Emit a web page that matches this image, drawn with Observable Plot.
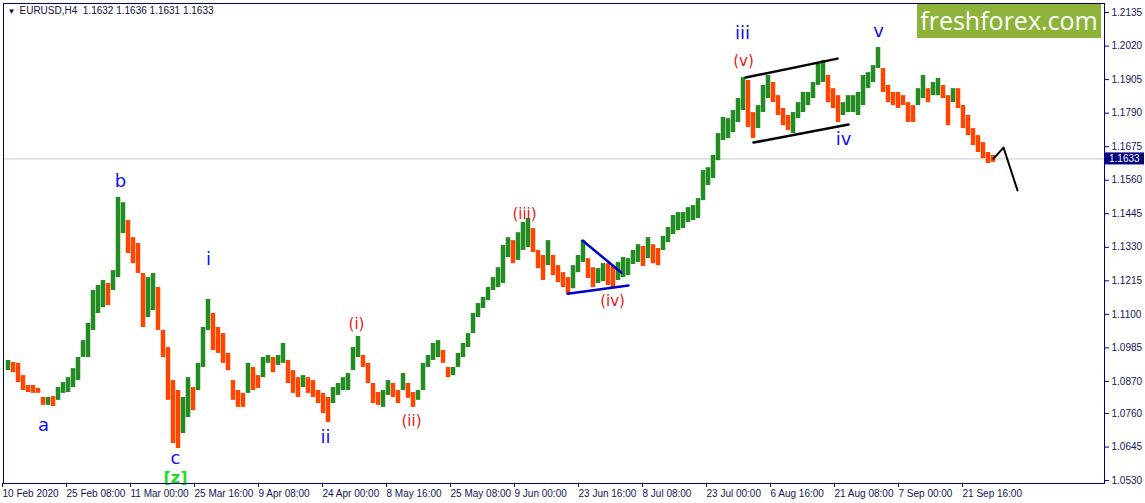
<!DOCTYPE html>
<html><head><meta charset="utf-8">
<script src="https://cdn.jsdelivr.net/npm/d3@7"></script>
<script src="https://cdn.jsdelivr.net/npm/@observablehq/plot@0.6"></script>
<style>
body{margin:0;background:#fff;}
#wrap{position:relative;width:1145px;height:503px;overflow:hidden;}
#logo{position:absolute;left:917px;top:4px;width:184px;height:34px;background:#8DB33A;color:#fff;font:25px "Open Sans",sans-serif;line-height:33px;text-align:center;}
</style></head><body><div id="wrap"><div id="logo">freshforex.com</div></div>
<script>
// ---- data (EURUSD H4, each sample = group of 5 H4 bars, high / low) ----
const symbol = "EURUSD,H4";
const lastOHLC = [1.1632, 1.1636, 1.1631, 1.1633];
const barsPerSample = 5;
const hi = [
1.0942,1.0935,1.0932,1.0890,1.0856,1.0856,1.0846,1.0815,1.0815,1.0818,
1.0849,1.0866,1.0883,1.0914,1.0952,1.1010,1.1069,1.1182,1.1199,1.1216,
1.1206,1.1250,1.1501,1.1483,1.1422,1.1363,1.1343,1.1240,1.1226,1.1240,
1.1192,1.1045,1.0986,1.0873,1.0839,1.0815,1.0883,1.0849,1.0932,1.1055,
1.1151,1.1103,1.1055,1.1034,1.0966,1.0873,1.0839,1.0829,1.0932,1.0918,
1.0890,1.0952,1.0959,1.0952,1.0959,1.1000,1.0942,1.0907,1.0883,1.0890,
1.0883,1.0873,1.0839,1.0829,1.0815,1.0849,1.0863,1.0883,1.0897,1.0986,
1.1024,1.0959,1.0932,1.0863,1.0832,1.0839,1.0873,1.0863,1.0839,1.0897,
1.0863,1.0832,1.0839,1.0932,1.0959,1.1000,1.1010,1.0976,1.0918,1.0918,
1.0966,1.1000,1.1034,1.1103,1.1137,1.1158,1.1192,1.1226,1.1260,1.1336,
1.1363,1.1353,1.1380,1.1415,1.1429,1.1394,1.1319,1.1302,1.1353,1.1302,
1.1267,1.1243,1.1226,1.1267,1.1302,1.1353,1.1291,1.1260,1.1257,1.1274,
1.1274,1.1264,1.1278,1.1295,1.1291,1.1319,1.1339,1.1333,1.1363,1.1339,
1.1326,1.1367,1.1398,1.1439,1.1449,1.1449,1.1466,1.1473,1.1497,1.1593,
1.1603,1.1645,1.1720,1.1775,1.1771,1.1799,1.1840,1.1912,1.1902,1.1792,
1.1816,1.1885,1.1919,1.1895,1.1850,1.1806,1.1782,1.1792,1.1826,1.1861,
1.1861,1.1895,1.1964,1.1970,1.1919,1.1874,1.1850,1.1826,1.1850,1.1850,
1.1861,1.1919,1.1929,1.1953,1.2015,1.1943,1.1885,1.1861,1.1861,1.1850,
1.1826,1.1816,1.1874,1.1919,1.1874,1.1895,1.1909,1.1885,1.1850,1.1874,
1.1874,1.1816,1.1782,1.1737,1.1713,1.1689,1.1655,1.1645];
const lo = [
1.0907,1.0900,1.0866,1.0839,1.0832,1.0829,1.0829,1.0788,1.0788,1.0784,
1.0805,1.0829,1.0832,1.0849,1.0873,1.0952,1.0952,1.1045,1.1103,1.1123,
1.1130,1.1182,1.1226,1.1377,1.1309,1.1274,1.1240,1.1055,1.1089,1.1113,
1.1045,1.0952,1.0805,1.0657,1.0640,1.0691,1.0746,1.0770,1.0839,1.0918,
1.1045,1.0976,1.0966,1.0932,1.0907,1.0805,1.0781,1.0781,1.0829,1.0839,
1.0846,1.0883,1.0932,1.0900,1.0925,1.0932,1.0863,1.0829,1.0815,1.0849,
1.0829,1.0815,1.0794,1.0760,1.0729,1.0794,1.0822,1.0839,1.0839,1.0907,
1.0952,1.0918,1.0863,1.0794,1.0788,1.0781,1.0822,1.0815,1.0794,1.0839,
1.0812,1.0781,1.0805,1.0839,1.0918,1.0942,1.0952,1.0932,1.0883,1.0890,
1.0918,1.0952,1.0986,1.1034,1.1089,1.1120,1.1147,1.1182,1.1192,1.1206,
1.1295,1.1274,1.1285,1.1319,1.1329,1.1312,1.1257,1.1216,1.1267,1.1233,
1.1209,1.1192,1.1171,1.1188,1.1243,1.1278,1.1223,1.1192,1.1206,1.1212,
1.1199,1.1192,1.1216,1.1226,1.1233,1.1271,1.1278,1.1264,1.1291,1.1274,
1.1267,1.1319,1.1346,1.1374,1.1387,1.1394,1.1415,1.1422,1.1429,1.1490,
1.1542,1.1566,1.1627,1.1696,1.1703,1.1723,1.1758,1.1799,1.1741,1.1703,
1.1737,1.1792,1.1840,1.1826,1.1782,1.1747,1.1730,1.1720,1.1771,1.1792,
1.1816,1.1840,1.1885,1.1895,1.1826,1.1806,1.1758,1.1782,1.1792,1.1792,
1.1782,1.1816,1.1874,1.1895,1.1943,1.1861,1.1826,1.1816,1.1806,1.1816,
1.1758,1.1758,1.1816,1.1840,1.1826,1.1850,1.1850,1.1840,1.1747,1.1826,
1.1806,1.1737,1.1713,1.1679,1.1655,1.1634,1.1617,1.1621];

// time axis (bar index) tick labels, every 64 H4 bars
const tickLabels = ["10 Feb 2020","25 Feb 08:00","11 Mar 00:00","25 Mar 16:00","9 Apr 08:00","24 Apr 00:00","8 May 16:00","25 May 08:00","9 Jun 00:00","23 Jun 16:00","8 Jul 08:00","23 Jul 00:00","6 Aug 16:00","21 Aug 08:00","7 Sep 00:00","21 Sep 16:00"];
const tickStep = 64;
const priceTicks = [1.0530,1.0645,1.0760,1.0870,1.0985,1.1100,1.1215,1.1330,1.1445,1.1560,1.1675,1.1790,1.1905,1.2020,1.2135];

// wave labels
const waveText  = ["a","b","c","i","ii","iii","iv","v"];
const waveBar   = [40,117,172,205,322,739,840,875];
const wavePrice = [1.0719,1.1555,1.0605,1.1288,1.0678,1.2063,1.1699,1.2070];
const subText  = ["(i)","(ii)","(iii)","(iv)","(v)"];
const subBar   = [353,408,521,609,740];
const subPrice = [1.1065,1.0732,1.1442,1.1144,1.1967];
const zText = ["[z]"], zBar = [172], zPrice = [1.0538];

// drawn lines (bar index, price)
const chanUpBar = [742,834], chanUpPrice = [1.1912,1.1977];
const chanLoBar = [750,845], chanLoPrice = [1.1689,1.1751];
const triUpBar = [579,618], triUpPrice = [1.1353,1.1243];
const triLoBar = [564,625], triLoPrice = [1.1171,1.1199];
const fcBar = [990,1000,1014], fcPrice = [1.1634,1.1672,1.1525];

// ---- build ----
const n = Math.min(hi.length, lo.length);
const bars = d3.range(n).map(i => {
  const mid = (hi[i] + lo[i]) / 2;
  const prev = i > 0 ? (hi[i-1] + lo[i-1]) / 2 : mid;
  return {bar: (i + 1) * barsPerSample - 0.5, hi: hi[i], lo: lo[i], up: mid >= prev};
});
const pts = (b, p) => b.map((x, i) => ({bar: x, price: p[i]}));
const tickBars = tickLabels.map((_, i) => i * tickStep);
const navy = "#000080", txt = "#14145a";

const plot = Plot.plot({
  width: 1145, height: 503,
  marginLeft: 3, marginRight: 41, marginTop: 3, marginBottom: 20,
  style: {fontFamily: "'Liberation Sans', Arial, sans-serif", fontSize: "10px", background: "#fff", overflow: "visible"},
  x: {domain: [0, 1101], axis: null, label: null},
  y: {domain: [1.0520, 1.2166], axis: null, label: null},
  marks: [
    Plot.ruleY([lastOHLC[3]], {stroke: "#c8c8c8", strokeWidth: 1}),
    Plot.ruleX(bars, {x: "bar", y1: "lo", y2: "hi", stroke: d => d.up ? "#228B22" : "#FF4500", strokeWidth: 4.5}),
    Plot.line(pts(chanUpBar, chanUpPrice), {x: "bar", y: "price", stroke: "#000", strokeWidth: 2.5}),
    Plot.line(pts(chanLoBar, chanLoPrice), {x: "bar", y: "price", stroke: "#000", strokeWidth: 2.5}),
    Plot.line(pts(triUpBar, triUpPrice), {x: "bar", y: "price", stroke: "#0000CC", strokeWidth: 2.5}),
    Plot.line(pts(triLoBar, triLoPrice), {x: "bar", y: "price", stroke: "#0000CC", strokeWidth: 2.5}),
    Plot.line(pts(fcBar, fcPrice), {x: "bar", y: "price", stroke: "#000", strokeWidth: 2}),
    Plot.text(waveText.map((t, i) => ({t, bar: waveBar[i], price: wavePrice[i]})), {x: "bar", y: "price", text: "t", fill: "#1010F0", fontSize: 18, fontFamily: "'DejaVu Sans', sans-serif"}),
    Plot.text(subText.map((t, i) => ({t, bar: subBar[i], price: subPrice[i]})), {x: "bar", y: "price", text: "t", fill: "#E81818", fontSize: 15, fontFamily: "'DejaVu Sans', sans-serif"}),
    Plot.text(zText.map((t, i) => ({t, bar: zBar[i], price: zPrice[i]})), {x: "bar", y: "price", text: "t", fill: "#22DD22", fontSize: 16, fontWeight: "bold", fontFamily: "'DejaVu Sans', sans-serif"}),
    Plot.frame({stroke: navy}),
    Plot.axisX({ticks: tickBars, tickFormat: d => tickLabels[tickBars.indexOf(d)], label: null, textAnchor: "start", tickSize: 4, tickPadding: 2, stroke: navy, fill: txt, fontSize: 10, dx: -1}),
    Plot.axisY({anchor: "right", ticks: priceTicks, tickFormat: d => d.toFixed(4), label: null, tickSize: 4, tickPadding: 3, stroke: navy, fill: txt, fontSize: 10}),
    Plot.text([`${symbol}  ${lastOHLC.map(v => v.toFixed(4)).join(" ")}`], {frameAnchor: "top-left", dx: 16, dy: 3, fill: "#101040", fontSize: 10, textAnchor: "start", lineAnchor: "top"}),
    Plot.text(["▼"], {frameAnchor: "top-left", dx: 4, dy: 5, fill: "#101040", fontSize: 8, textAnchor: "start", lineAnchor: "top"})
  ]
});
document.getElementById("wrap").prepend(plot);
// current price label box on the price axis
const ys = plot.scale("y").apply(lastOHLC[3]);
const svg = d3.select(plot);
svg.append("rect").attr("x", 1105).attr("y", ys - 6).attr("width", 39).attr("height", 12).attr("fill", navy);
svg.append("text").attr("x", 1109).attr("y", ys).attr("dy", "0.35em").attr("text-anchor", "start").attr("fill", "#fff").attr("font-size", 10).attr("font-family", "'Liberation Sans', Arial, sans-serif").text(lastOHLC[3].toFixed(4));
</script></body></html>
